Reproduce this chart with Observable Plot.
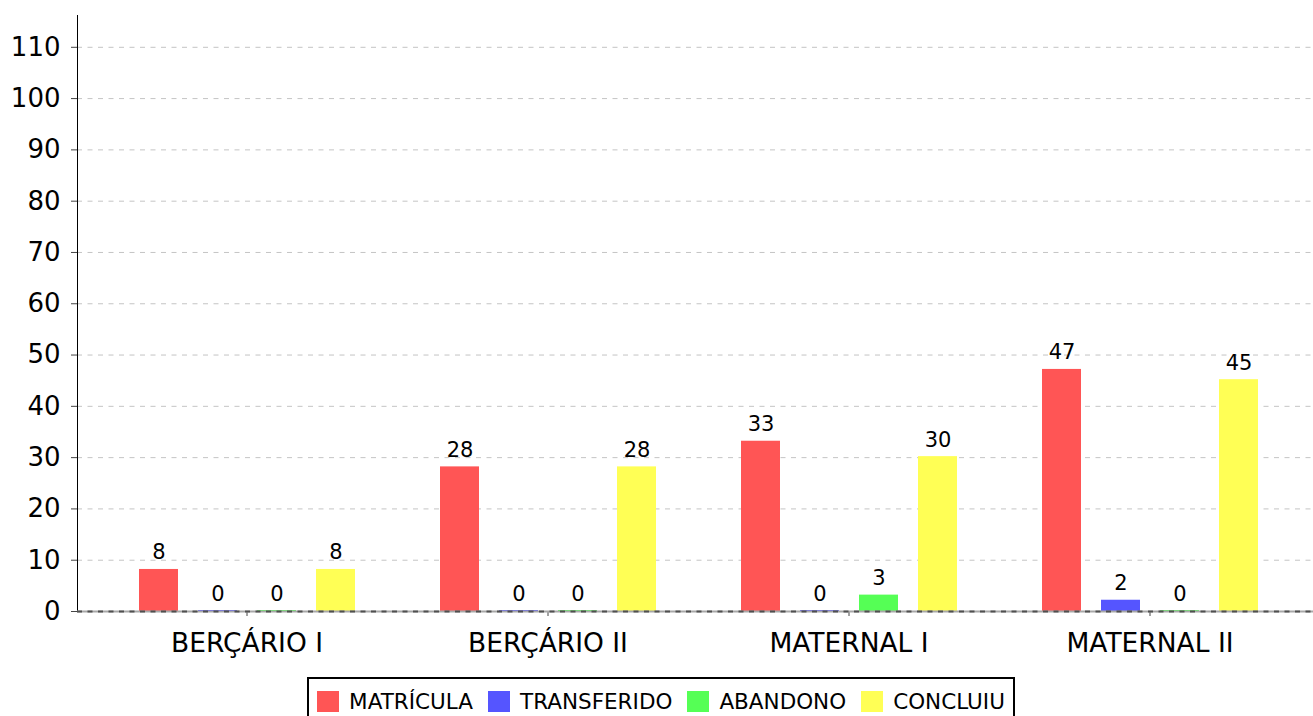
<!DOCTYPE html>
<html>
<head>
<meta charset="utf-8">
<script src="https://cdn.jsdelivr.net/npm/d3@7"></script>
<script src="https://cdn.jsdelivr.net/npm/@observablehq/plot@0.6"></script>
<style>
  body { margin: 0; background: #fff; font-family: "DejaVu Sans", sans-serif; }
  #chart { position: relative; width: 1313px; height: 660px; }
  #chart svg { display: block; position: absolute; left: 0; top: 0; }
  #legend-wrap { display: flex; justify-content: center; padding-left: 9px; margin-top: 17px; }
  #legend { display: flex; align-items: center; border: 2px solid #000; padding: 10px 8px 10px 8px; font-size: 21.5px; color: #000; }
  .item { display: flex; align-items: center; margin-right: 15px; }
  .item:last-child { margin-right: 0px; }
  .sw { width: 22px; height: 21px; margin-right: 10px; }
</style>
</head>
<body>
<div id="chart"></div>
<div id="legend-wrap"><div id="legend"></div></div>
<script>
const categories = ["BERÇÁRIO I", "BERÇÁRIO II", "MATERNAL I", "MATERNAL II"];
const series = ["MATRÍCULA", "TRANSFERIDO", "ABANDONO", "CONCLUIU"];
const matricula = [8, 28, 33, 47];
const transferido = [0, 0, 0, 2];
const abandono = [0, 0, 3, 0];
const concluiu = [8, 28, 30, 45];
const colors = ["#ff5555", "#5555ff", "#55ff55", "#ffff55"];
const yTicks = [0, 10, 20, 30, 40, 50, 60, 70, 80, 90, 100, 110];

const seriesValues = [matricula, transferido, abandono, concluiu];
const data = [];
categories.forEach((c, i) => {
  series.forEach((s, j) => {
    data.push({cat: c, serie: s, value: seriesValues[j][i]});
  });
});

const common = {
  width: 1313,
  height: 660,
  marginLeft: 77,
  marginRight: 0,
  marginTop: 15,
  marginBottom: 49,
  y: {domain: [0, 116.2], axis: null}
};
const catScale = {type: "band", domain: categories, paddingInner: 0, paddingOuter: 0.052, align: 0.6};

// Background: grid, axes
const bg = Plot.plot({
  ...common,
  style: {fontFamily: "DejaVu Sans", fontSize: "26px", color: "#000", background: "#fff"},
  x: {...catScale, axis: null},
  marks: [
    Plot.ruleY(yTicks.filter(d => d > 0), {stroke: "#c4c4c4", strokeDasharray: "5,5.5"}),
    Plot.axisY(yTicks, {anchor: "left", tickSize: 6, tickPadding: 11, fontSize: 26,
      stroke: "#444", label: null}),
    Plot.axisX({anchor: "bottom", tickSize: 5, tickPadding: 17, fontSize: 26.5,
      stroke: "#444", label: null}),
    Plot.frame({anchor: "left", stroke: "#000"})
  ]
});

// Foreground: grouped bars and value labels
const fg = Plot.plot({
  ...common,
  style: {fontFamily: "DejaVu Sans", fontSize: "21px", color: "#000", background: "transparent"},
  fx: {...catScale, axis: null},
  x: {domain: series, paddingInner: 0.345, paddingOuter: 0.685, axis: null},
  color: {domain: series, range: colors},
  marks: [
    Plot.barY(data, {fx: "cat", x: "serie", y: "value", fill: "serie", insetTop: -1}),
    Plot.text(data, {fx: "cat", x: "serie", y: "value", text: d => String(d.value),
      lineAnchor: "bottom", dy: -11, fontSize: 21, fill: "#000"})
  ]
});

// Baseline drawn on top of the bars
const base = Plot.plot({
  ...common,
  style: {background: "transparent"},
  x: {...catScale, axis: null},
  marks: [
    Plot.ruleY([0], {stroke: "#a8a8a8", strokeWidth: 2}),
    Plot.ruleY([0], {stroke: "#505050", strokeWidth: 2, strokeDasharray: "5,5.5"})
  ]
});

const chartDiv = document.getElementById("chart");
chartDiv.appendChild(bg);
chartDiv.appendChild(fg);
chartDiv.appendChild(base);

const legend = document.getElementById("legend");
series.forEach((s, j) => {
  const it = document.createElement("div");
  it.className = "item";
  const sw = document.createElement("div");
  sw.className = "sw";
  sw.style.background = colors[j];
  const tx = document.createElement("span");
  tx.textContent = s;
  it.appendChild(sw);
  it.appendChild(tx);
  legend.appendChild(it);
});
</script>
</body>
</html>
